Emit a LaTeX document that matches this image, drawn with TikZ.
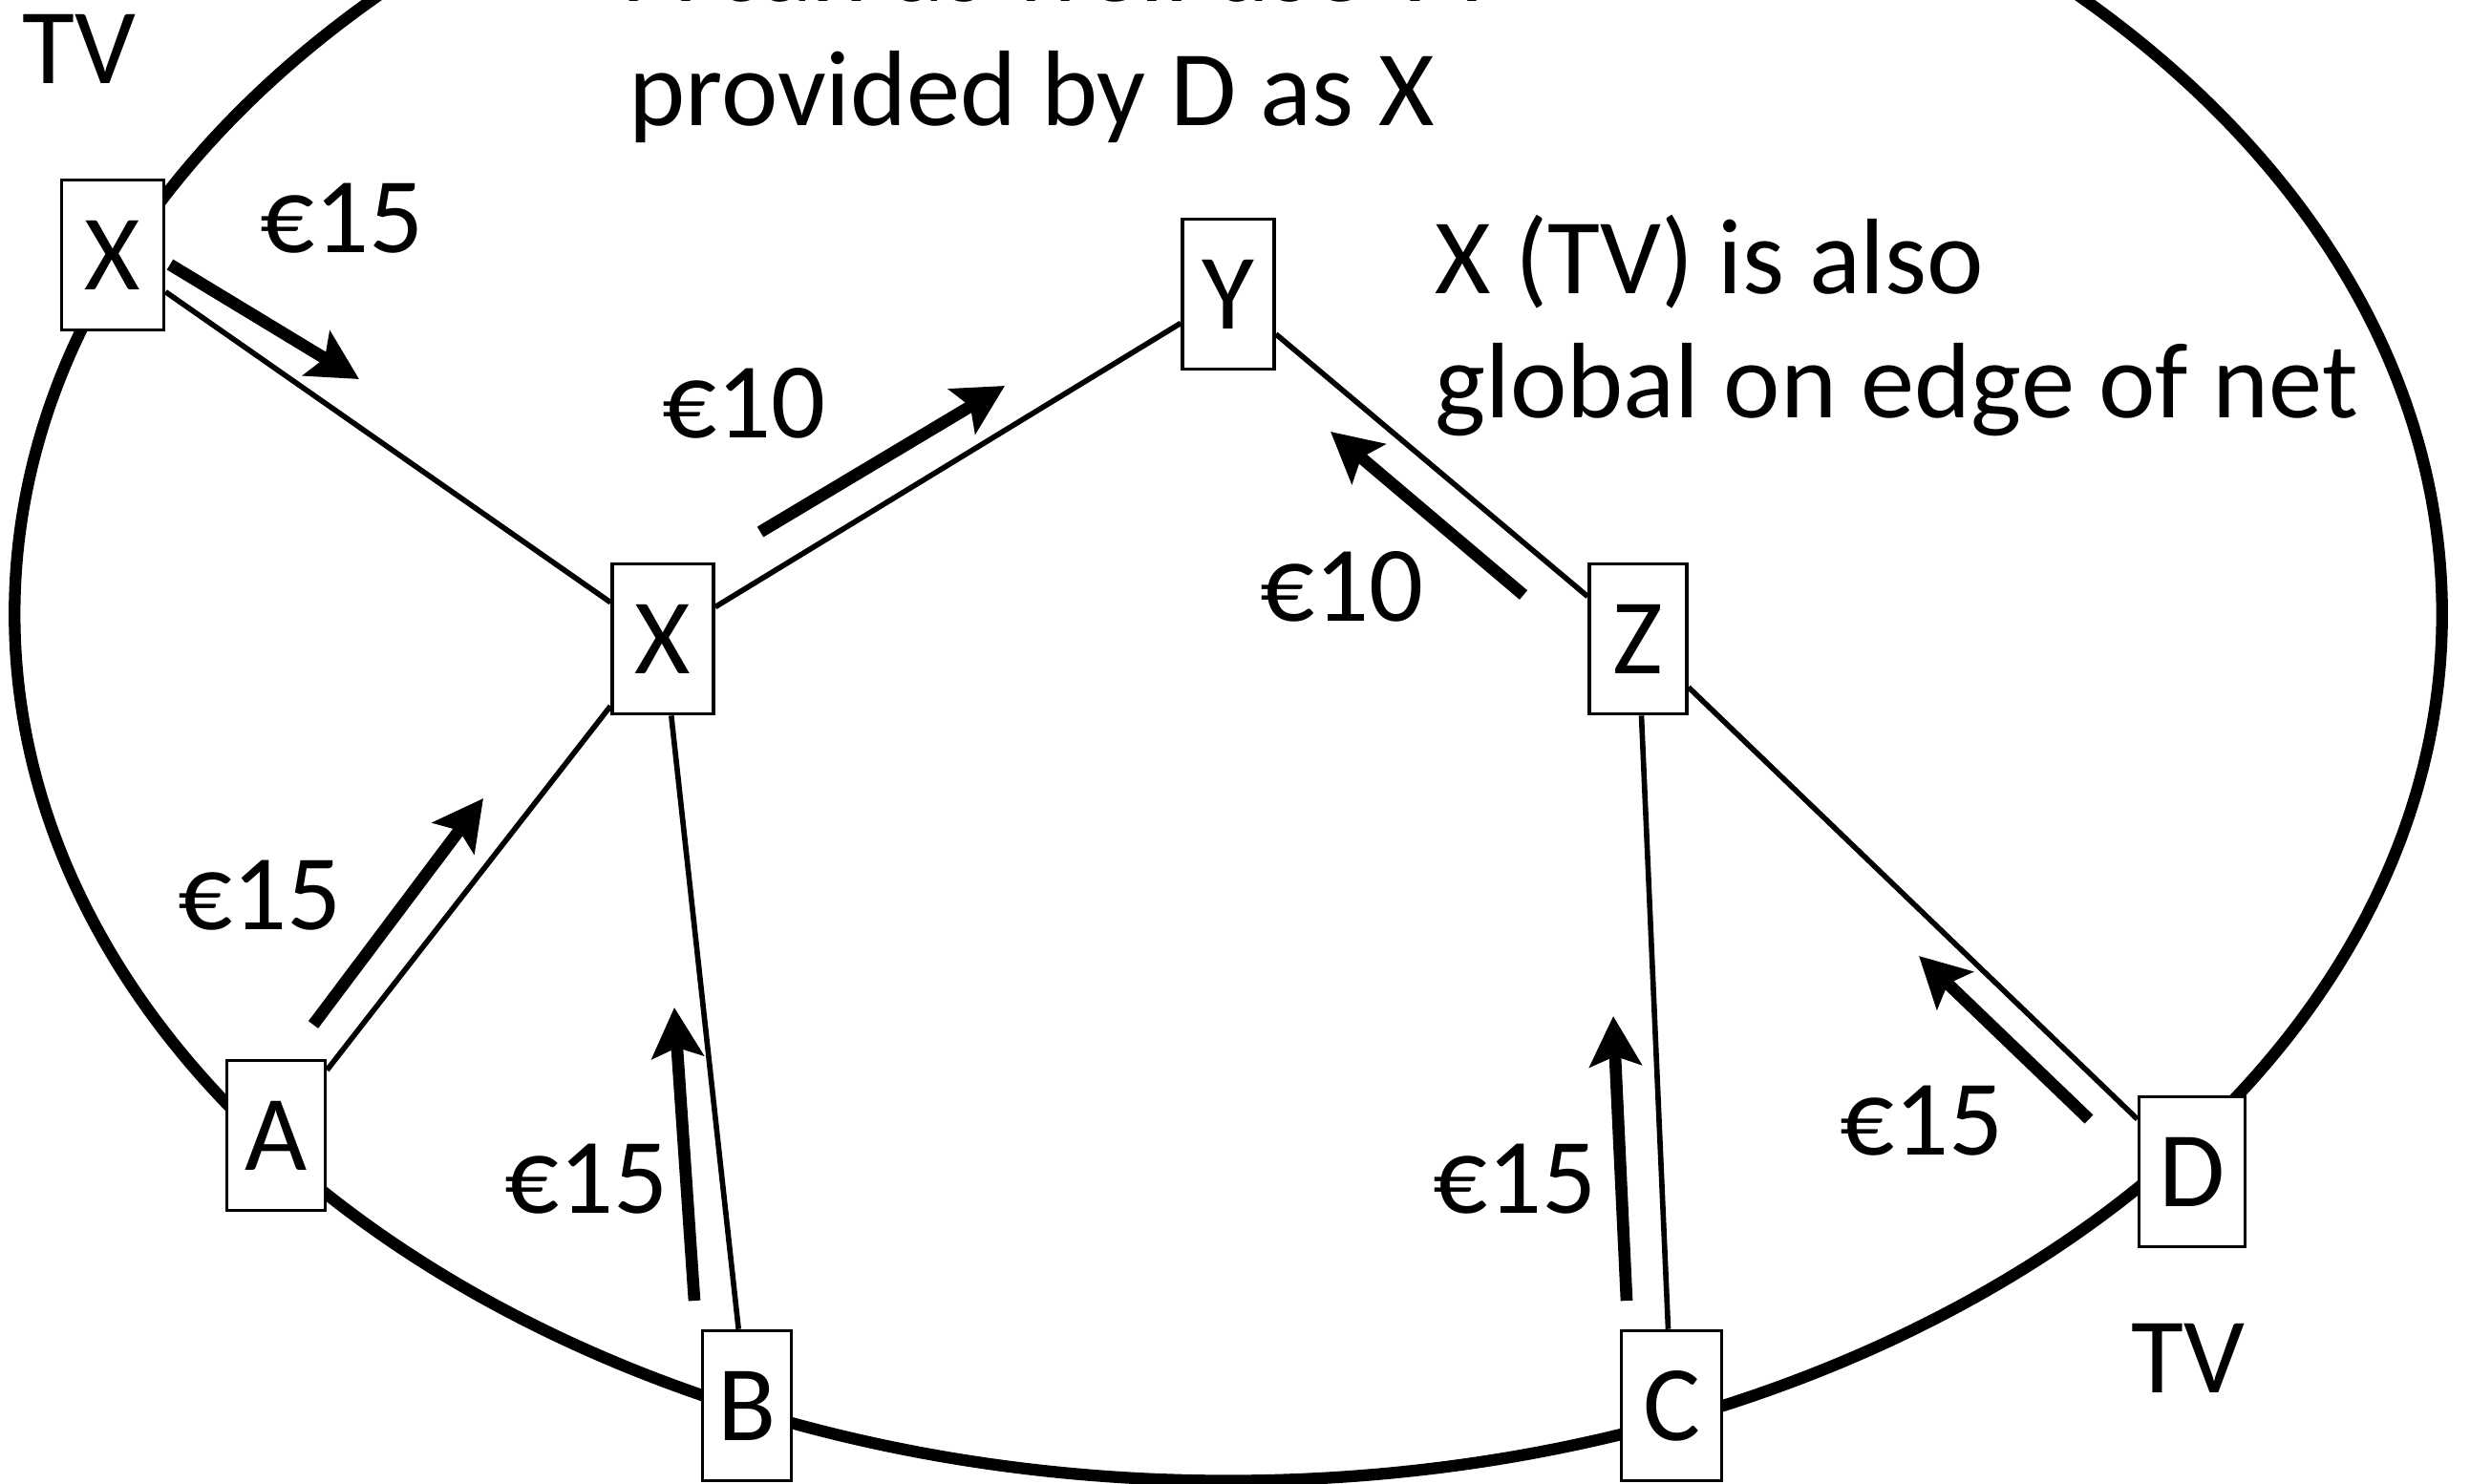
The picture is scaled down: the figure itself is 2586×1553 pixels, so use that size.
\documentclass[tikz,border=0pt]{standalone}
\usepackage{fontspec}
\setmainfont{Carlito}
\usetikzlibrary{arrows.meta}
\begin{document}
\begin{tikzpicture}[x=0.01cm,y=-0.01cm,
  every node/.style={font=\fontsize{32}{38}\selectfont, inner sep=0pt},
  box/.style={draw, line width=1pt, fill=white, minimum height=1.57cm},
  link/.style={line width=1.6pt},
  ring/.style={line width=3.5pt},
  flow/.style={line width=3.6pt, -{Stealth[length=0.52cm,width=0.54cm,inset=0.1cm]}},
  lbl/.style={anchor=base west}]
\clip (0,0) rectangle (2586,1553);
\fill[white] (0,0) rectangle (2586,1553);
\draw[ring] (1286,643) ellipse [x radius=12.70cm, y radius=9.07cm];
% boxes
\node[box, minimum width=1.07cm] (xt) at (118,267) {X};
\node[box, minimum width=0.96cm] (y) at (1286,308) {Y};
\node[box, minimum width=1.06cm] (xm) at (694,669) {X};
\node[box, minimum width=1.02cm] (z) at (1715,669) {Z};
\node[box, minimum width=1.03cm] (a) at (289,1189) {A};
\node[box, minimum width=0.93cm] (b) at (782,1472) {B};
\node[box, minimum width=1.05cm] (c) at (1750,1472) {C};
\node[box, minimum width=1.11cm] (d) at (2295,1227) {D};
% links
\draw[link] (xt) -- (xm);
\draw[link] (xm) -- (y);
\draw[link] (y) -- (z);
\draw[link] (xm) -- (a);
\draw[link] (xm) -- (b);
\draw[link] (z) -- (c);
\draw[link] (z) -- (d);
% flow arrows
\coordinate (f1s) at (178,277);  \coordinate (f1e) at (376,397);
\coordinate (f2s) at (796,557);  \coordinate (f2e) at (1052,404);
\coordinate (f3s) at (1595,623); \coordinate (f3e) at (1393,452);
\coordinate (f4s) at (328,1073); \coordinate (f4e) at (506,836);
\coordinate (f5s) at (727,1362); \coordinate (f5e) at (706,1055);
\coordinate (f6s) at (1703,1362);\coordinate (f6e) at (1689,1064);
\coordinate (f7s) at (2187,1172);\coordinate (f7e) at (2009,1001);
\draw[flow] (f1s) -- (f1e);
\draw[flow] (f2s) -- (f2e);
\draw[flow] (f3s) -- (f3e);
\draw[flow] (f4s) -- (f4e);
\draw[flow] (f5s) -- (f5e);
\draw[flow] (f6s) -- (f6e);
\draw[flow] (f7s) -- (f7e);
% labels
\node[lbl] (p1) at (272,264) {€15};
\node[lbl] (p2) at (693,458) {€10};
\node[lbl] (p3) at (1319,650) {€10};
\node[lbl] (p4) at (186,973) {€15};
\node[lbl] (p5) at (528,1270) {€15};
\node[lbl] (p6) at (1500,1270) {€15};
\node[lbl] (p7) at (1926,1209) {€15};
\node[lbl] (tv1) at (23,87) {TV};
\node[lbl] (tv2) at (2231,1458) {TV};
\node[lbl] (n1a) at (658,1) {A can as well use TV};
\node[lbl] (n1b) at (658,131) {provided by D as X};
\node[lbl] (n2a) at (1502,307) {X (TV) is also};
\node[lbl] (n2b) at (1502,437) {global on edge of net};
\end{tikzpicture}
\end{document}
